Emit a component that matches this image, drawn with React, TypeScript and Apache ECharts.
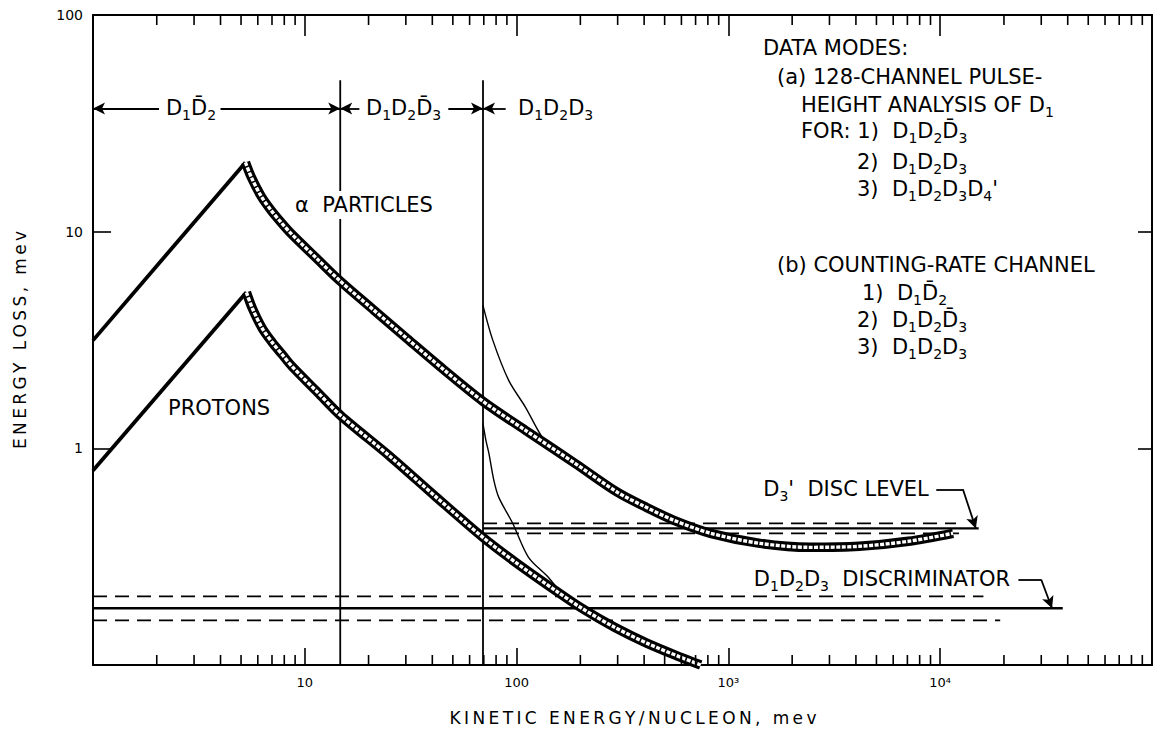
import React, { useEffect, useRef } from "react";
import * as echarts from "echarts";

// ---- axis ranges & tick labels ----
const X_MIN = 1;
const X_MAX = 100000;
const Y_MIN = 0.1;
const Y_MAX = 100;
const xTickLabels: Record<string, string> = { "10": "10", "100": "100", "1000": "10³", "10000": "10⁴" };
const yTickLabels: Record<string, string> = { "1": "1", "10": "10", "100": "100" };
const tickDecades = [1, 10, 100, 1000, 10000];
const tickMults = [2, 3, 4, 5, 6, 7, 8, 9];

// ---- curves (kinetic energy/nucleon MeV, energy loss MeV) ----
const alphaRise = [[1, 3.15], [5.245, 20.88]];
const alphaBand = [
  [5.245, 20.88], [5.594, 17.81], [6.229, 14.55], [6.936, 12.54], [7.725, 11.04], [8.603, 9.82],
  [11.5, 7.45], [14.73, 5.9], [21.24, 4.334], [30.3, 3.218], [45.1, 2.315], [69.36, 1.648],
  [110.2, 1.211], [188.7, 0.8527], [299.6, 0.6266], [400.6, 0.5399], [553.4, 0.4653], [824, 0.4054],
  [1411, 0.3643], [2416, 0.3492], [4139, 0.353], [7088, 0.3723], [11500, 0.4054],
];
const protonRise = [[1, 0.791], [5.301, 5.248]];
const protonBand = [
  [5.301, 5.248], [5.655, 4.427], [6.297, 3.579], [7.014, 3.084], [7.807, 2.716], [8.695, 2.39],
  [11.5, 1.813], [14.73, 1.42], [25.23, 0.9186], [41.83, 0.594], [69.36, 0.388], [98.93, 0.2977],
  [152.1, 0.2212], [203.4, 0.1827], [290.1, 0.1493], [413.9, 0.1259], [596.6, 0.1085], [740, 0.1],
];
const thinAlpha = [[69.36, 4.571], [77.25, 3.15], [91.76, 2.06], [110.2, 1.546], [132.3, 1.124], [152.1, 0.99]];
const thinProton = [
  [69.36, 1.304], [71.63, 1.089], [74.0, 0.948], [78.1, 0.712], [82.4, 0.594], [95.8, 0.451],
  [113.8, 0.314], [141.1, 0.254], [169.4, 0.203],
];

// ---- boundaries & levels ----
const boundary15 = [[14.7, 50], [14.7, 0.1]];
const boundary70 = [[69.4, 50], [69.4, 0.1]];
const d3Solid = [[69.4, 0.427], [15200, 0.427]];
const d3DashHi = [[69.4, 0.45], [11880, 0.45]];
const d3DashLo = [[69.4, 0.405], [12940, 0.405]];
const discSolid = [[1, 0.1827], [37900, 0.1827]];
const discDashHi = [[1, 0.2075], [16000, 0.2075]];
const discDashLo = [[1, 0.1608], [19200, 0.1608]];

// ---- mode arrows [from, to] at a given energy-loss level ----
const modeArrowY = 37;
const modeArrows = [[2.05, 1], [4.0, 14.7], [18.1, 14.7], [47.6, 69.4], [88.8, 69.4]];
const d3Leader = [[9580, 0.647], [12800, 0.647], [14730, 0.427]];
const discLeader = [[23400, 0.248], [29970, 0.248], [33730, 0.1827]];

const FONT = "DejaVu Sans";
const richStyles = {
  b: { fontSize: 21, fontFamily: FONT, lineHeight: 28, fill: "#000" },
  sub: { fontSize: 14, fontFamily: FONT, verticalAlign: "bottom", lineHeight: 12, fill: "#000" },
};
const spaced = (s: string) => s.split("").join("\u2009");

function lineSeries(data: number[][], width: number, type: any = "solid", z = 2) {
  return {
    type: "line", data, showSymbol: false, symbol: "none", z, silent: true,
    lineStyle: { color: "#000", width, type, cap: "butt" },
  };
}

function smoothSeries(data: number[][], width: number, type: any = "solid", color = "#000", z = 3) {
  return {
    type: "line", data, showSymbol: false, symbol: "none", smooth: 0.3, z, silent: true,
    lineStyle: { color, width, type, cap: "butt", join: "round" },
  };
}

function txt(x: number, y: number, text: string, align = "left", extra: any = {}) {
  return {
    type: "text", x, y, z: 50,
    style: {
      text, fontFamily: FONT, fontSize: 21, fill: "#000", align, verticalAlign: "middle",
      rich: richStyles, ...extra,
    },
  };
}

export default function App() {
  const ref = useRef<HTMLDivElement>(null);
  useEffect(() => {
    if (!ref.current) return;
    const chart = echarts.init(ref.current, undefined, { renderer: "svg" });
    const minorTicks = tickDecades.flatMap((d) => tickMults.map((m) => [m * d, 1]));
    const logAxis = { type: "log", logBase: 10, splitLine: { show: false } };
    const option: any = {
      animation: false,
      backgroundColor: "#fff",
      grid: { left: 93, top: 15, width: 1071, height: 650 },
      xAxis: [
        {
          ...logAxis, min: X_MIN, max: X_MAX, position: "bottom",
          axisLine: { lineStyle: { color: "#000", width: 2 } },
          axisTick: { inside: true, length: 17, lineStyle: { color: "#000", width: 1.6 } },
          axisLabel: {
            color: "#000", fontFamily: FONT, fontSize: 13, margin: 11,
            formatter: (v: number) => xTickLabels[String(Math.round(v))] || "",
          },
        },
        {
          ...logAxis, min: X_MIN, max: X_MAX, position: "top",
          axisLine: { lineStyle: { color: "#000", width: 2 } },
          axisTick: { inside: true, length: 21, lineStyle: { color: "#000", width: 1.6 } },
          axisLabel: { show: false },
        },
      ],
      yAxis: [
        {
          ...logAxis, min: Y_MIN, max: Y_MAX, position: "left",
          axisLine: { lineStyle: { color: "#000", width: 2 } },
          axisTick: { inside: true, length: 18, lineStyle: { color: "#000", width: 1.6 } },
          axisLabel: {
            color: "#000", fontFamily: FONT, fontSize: 14, margin: 10,
            formatter: (v: number) => yTickLabels[String(Math.round(v))] || "",
          },
        },
        {
          ...logAxis, min: Y_MIN, max: Y_MAX, position: "right",
          axisLine: { lineStyle: { color: "#000", width: 2 } },
          axisTick: { inside: true, length: 14, lineStyle: { color: "#000", width: 1.6 } },
          axisLabel: { show: false },
        },
      ],
      series: [
        lineSeries(boundary15, 1.8),
        lineSeries(boundary70, 1.8),
        lineSeries(discSolid, 2.4),
        lineSeries(discDashHi, 1.8, [14, 8]),
        lineSeries(discDashLo, 1.8, [14, 8]),
        lineSeries(d3Solid, 2.4),
        lineSeries(d3DashHi, 1.8, [14, 8]),
        lineSeries(d3DashLo, 1.8, [14, 8]),
        smoothSeries(thinAlpha, 1.4, "solid", "#000", 4),
        smoothSeries(thinProton, 1.4, "solid", "#000", 4),
        lineSeries(alphaRise, 3.8, "solid", 5),
        lineSeries(protonRise, 3.8, "solid", 5),
        smoothSeries(alphaBand, 9.5, "solid", "#000", 6),
        smoothSeries(alphaBand, 3.4, [4, 1.5], "#fff", 7),
        smoothSeries(protonBand, 9.5, "solid", "#000", 6),
        smoothSeries(protonBand, 3.4, [4, 1.5], "#fff", 7),
        {
          type: "custom", coordinateSystem: "cartesian2d", data: minorTicks, z: 8, silent: true, clip: false,
          renderItem: (params: any, api: any) => {
            const x = api.value(0);
            const b = api.coord([x, Y_MIN]);
            const t = api.coord([x, Y_MAX]);
            const st = { stroke: "#000", lineWidth: 1.6 };
            return {
              type: "group",
              children: [
                { type: "line", shape: { x1: b[0], y1: b[1], x2: b[0], y2: b[1] - 10 }, style: st },
                { type: "line", shape: { x1: t[0], y1: t[1], x2: t[0], y2: t[1] + 10 }, style: st },
              ],
            };
          },
        },
        {
          type: "line", data: [], z: 9, silent: true,
          markLine: {
            silent: true, animation: false, symbolSize: [9, 12],
            label: { show: false },
            lineStyle: { color: "#000", width: 1.8, type: "solid" },
            data: [
              ...modeArrows.map(([a, b]) => [
                { coord: [a, modeArrowY], symbol: "none" },
                { coord: [b, modeArrowY], symbol: "arrow" },
              ]),
              [{ coord: d3Leader[0], symbol: "none" }, { coord: d3Leader[1], symbol: "none" }],
              [{ coord: d3Leader[1], symbol: "none" }, { coord: d3Leader[2], symbol: "arrow" }],
              [{ coord: discLeader[0], symbol: "none" }, { coord: discLeader[1], symbol: "none" }],
              [{ coord: discLeader[1], symbol: "none" }, { coord: discLeader[2], symbol: "arrow" }],
            ],
          },
        },
      ],
      graphic: [
        txt(191, 108, "{b|D}{sub|1}{b|D\u0304}{sub|2}", "center"),
        txt(366, 108, "{b|D}{sub|1}{b|D}{sub|2}{b|D\u0304}{sub|3}"),
        txt(518, 108, "{b|D}{sub|1}{b|D}{sub|2}{b|D}{sub|3}"),
        txt(293, 205, "{b|α  PARTICLES}", "left", { backgroundColor: "#fff", padding: [0, 2] }),
        txt(168, 408, "{b|PROTONS}"),
        txt(763, 48, "{b|DATA MODES:}"),
        txt(777, 77, "{b|(a) 128-CHANNEL PULSE-}"),
        txt(801, 105, "{b|HEIGHT ANALYSIS OF D}{sub|1}"),
        txt(801, 131, "{b|FOR: 1)  D}{sub|1}{b|D}{sub|2}{b|D\u0304}{sub|3}"),
        txt(857, 162, "{b|2)  D}{sub|1}{b|D}{sub|2}{b|D}{sub|3}"),
        txt(857, 189, "{b|3)  D}{sub|1}{b|D}{sub|2}{b|D}{sub|3}{b|D}{sub|4}{b|'}"),
        txt(777, 265, "{b|(b) COUNTING-RATE CHANNEL}"),
        txt(862, 293, "{b|1)  D}{sub|1}{b|D\u0304}{sub|2}"),
        txt(857, 320, "{b|2)  D}{sub|1}{b|D}{sub|2}{b|D\u0304}{sub|3}"),
        txt(857, 347, "{b|3)  D}{sub|1}{b|D}{sub|2}{b|D}{sub|3}"),
        txt(846, 489, "{b|D}{sub|3}{b|'  DISC LEVEL}", "center"),
        txt(882, 579, "{b|D}{sub|1}{b|D}{sub|2}{b|D}{sub|3}{b|  DISCRIMINATOR}", "center"),
        {
          type: "text", x: 633, y: 718, z: 50,
          style: { text: spaced("KINETIC ENERGY/NUCLEON, mev"), fontFamily: FONT, fontSize: 17, fill: "#000", align: "center", verticalAlign: "middle" },
        },
        {
          type: "text", x: 20, y: 340, rotation: Math.PI / 2, z: 50,
          style: { text: spaced("ENERGY LOSS, mev"), fontFamily: FONT, fontSize: 17, fill: "#000", align: "center", verticalAlign: "middle" },
        },
      ],
    };
    chart.setOption(option);
    return () => chart.dispose();
  }, []);
  return (
    <div
      ref={ref}
      style={{ position: "absolute", left: 0, top: 0, width: 1155, height: 732, background: "#fff" }}
    />
  );
}
